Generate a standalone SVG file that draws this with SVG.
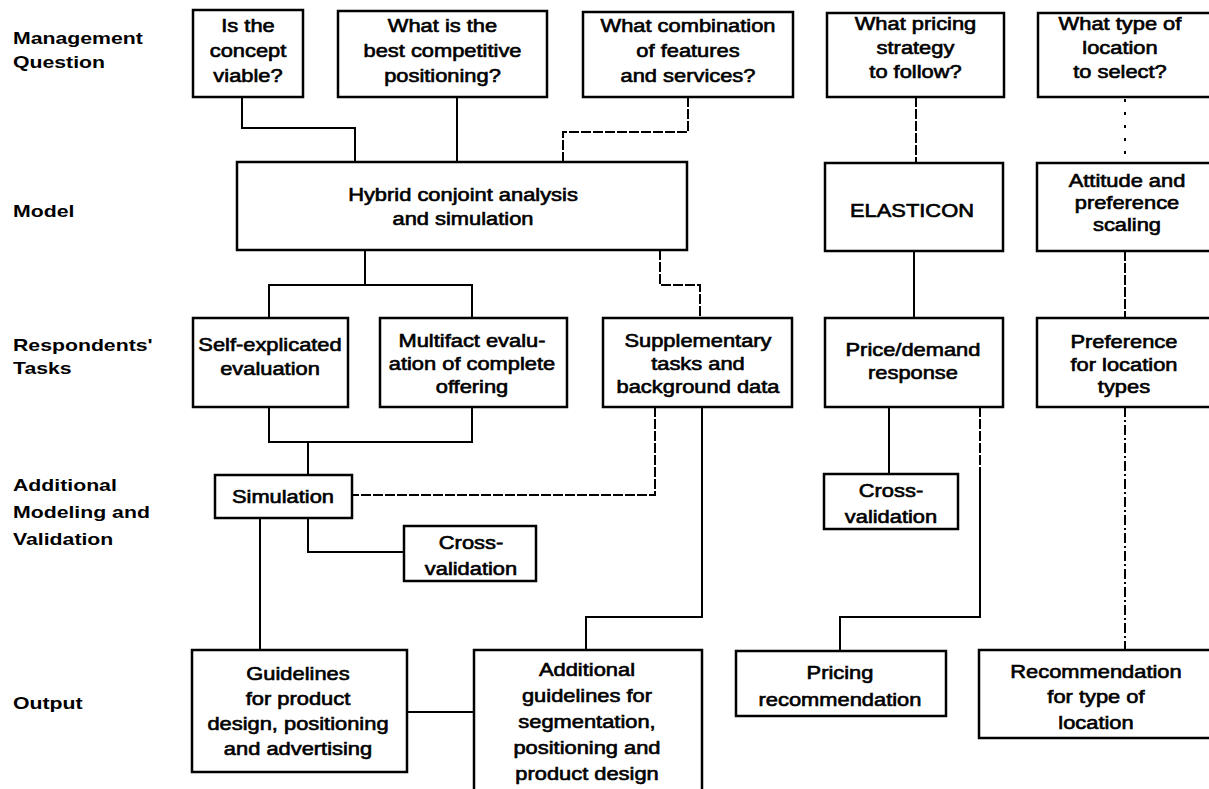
<svg xmlns="http://www.w3.org/2000/svg" width="1209" height="789" viewBox="0 0 1209 789">
<style>
.bg{fill:#fff}
.box{fill:none;stroke:#000;stroke-width:2.5}
.t{font-family:"Liberation Sans",Arial,sans-serif;font-size:17.5px;fill:#000;stroke:#000;stroke-width:0.6;text-anchor:middle}
.lab{font-family:"Liberation Sans",Arial,sans-serif;font-size:17px;font-weight:bold;fill:#000}
.c{fill:none;stroke:#000;stroke-width:2}
.d{stroke-dasharray:10 2}
.dot{stroke-dasharray:3 10}
.dd{stroke-dasharray:10 3 2 3}
</style>
<rect class="bg" x="0" y="0" width="1209" height="789"/>
<g id="labels" transform="scale(1.25 1)">
<text class="lab" x="10.4" y="44">Management</text>
<text class="lab" x="10.4" y="68">Question</text>
<text class="lab" x="10.4" y="217">Model</text>
<text class="lab" x="10.4" y="351">Respondents'</text>
<text class="lab" x="10.4" y="374">Tasks</text>
<text class="lab" x="10.4" y="491">Additional</text>
<text class="lab" x="10.4" y="518">Modeling and</text>
<text class="lab" x="10.4" y="545">Validation</text>
<text class="lab" x="10.4" y="709">Output</text>
</g>
<g id="connectors">
<path class="c" d="M242,97 V128 H355 V162"/>
<path class="c" d="M457,97 V162"/>
<path class="c d" d="M688,97 V132 H563 V162"/>
<path class="c d" d="M916,97 V163"/>
<path class="c dot" d="M1125,99 V161"/>
<path class="c" d="M365,250 V285"/>
<path class="c" d="M269,318 V285 H472 V318"/>
<path class="c d" d="M660,250 V285 H700 V318"/>
<path class="c" d="M914,251 V318"/>
<path class="c d" d="M1125,251 V318"/>
<path class="c" d="M269,407 V442 H472 V407"/>
<path class="c" d="M308,442 V475"/>
<path class="c d" d="M655,407 V495 H352"/>
<path class="c" d="M702,407 V617 H586 V650"/>
<path class="c" d="M308,518 V552 H404"/>
<path class="c" d="M260,518 V650"/>
<path class="c" d="M407,712 H474"/>
<path class="c" d="M889,407 V474"/>
<path class="c d" d="M980,407 V470"/>
<path class="c" d="M980,470 V617 H840 V651"/>
<path class="c dd" d="M1125,407 V650"/>
</g>
<g id="q1">
<rect class="box" x="193" y="10" width="110" height="87"/>
<text class="t" transform="scale(1.25 1)"><tspan x="198.4" y="32">Is the</tspan><tspan x="198.4" y="57">concept</tspan><tspan x="198.4" y="82">viable?</tspan></text>
</g>
<g id="q2">
<rect class="box" x="338" y="11" width="209" height="86"/>
<text class="t" transform="scale(1.25 1)"><tspan x="354" y="32">What is the</tspan><tspan x="354" y="57">best competitive</tspan><tspan x="354" y="82">positioning?</tspan></text>
</g>
<g id="q3">
<rect class="box" x="583" y="12" width="210" height="85"/>
<text class="t" transform="scale(1.25 1)"><tspan x="550.4" y="32">What combination</tspan><tspan x="550.4" y="57">of features</tspan><tspan x="550.4" y="82">and services?</tspan></text>
</g>
<g id="q4">
<rect class="box" x="827" y="13" width="177" height="84"/>
<text class="t" transform="scale(1.25 1)"><tspan x="732.4" y="30">What pricing</tspan><tspan x="732.4" y="54">strategy</tspan><tspan x="732.4" y="78">to follow?</tspan></text>
</g>
<g id="q5">
<rect class="box" x="1038" y="13" width="180" height="84"/>
<text class="t" transform="scale(1.25 1)"><tspan x="896" y="30">What type of</tspan><tspan x="896" y="54">location</tspan><tspan x="896" y="78">to select?</tspan></text>
</g>
<g id="hybrid">
<rect class="box" x="237" y="162" width="450" height="88"/>
<text class="t" transform="scale(1.25 1)"><tspan x="370.4" y="201">Hybrid conjoint analysis</tspan><tspan x="370.4" y="225">and simulation</tspan></text>
</g>
<g id="elasticon">
<rect class="box" x="825" y="163" width="178" height="88"/>
<text class="t" transform="scale(1.25 1)"><tspan x="729.6" y="217">ELASTICON</tspan></text>
</g>
<g id="attitude">
<rect class="box" x="1037" y="163" width="180" height="88"/>
<text class="t" transform="scale(1.25 1)"><tspan x="901.6" y="187">Attitude and</tspan><tspan x="901.6" y="209">preference</tspan><tspan x="901.6" y="231">scaling</tspan></text>
</g>
<g id="selfexp">
<rect class="box" x="193" y="318" width="155" height="89"/>
<text class="t" transform="scale(1.25 1)"><tspan x="216" y="351">Self-explicated</tspan><tspan x="216" y="375">evaluation</tspan></text>
</g>
<g id="multifact">
<rect class="box" x="380" y="318" width="187" height="89"/>
<text class="t" transform="scale(1.25 1)"><tspan x="377.6" y="347">Multifact evalu-</tspan><tspan x="377.6" y="370">ation of complete</tspan><tspan x="377.6" y="393">offering</tspan></text>
</g>
<g id="supplementary">
<rect class="box" x="603" y="318" width="189" height="89"/>
<text class="t" transform="scale(1.25 1)"><tspan x="558.4" y="347">Supplementary</tspan><tspan x="558.4" y="370">tasks and</tspan><tspan x="558.4" y="393">background data</tspan></text>
</g>
<g id="pricedemand">
<rect class="box" x="825" y="318" width="178" height="89"/>
<text class="t" transform="scale(1.25 1)"><tspan x="730.4" y="356">Price/demand</tspan><tspan x="730.4" y="379">response</tspan></text>
</g>
<g id="preference">
<rect class="box" x="1037" y="318" width="180" height="89"/>
<text class="t" transform="scale(1.25 1)"><tspan x="899.2" y="348">Preference</tspan><tspan x="899.2" y="371">for location</tspan><tspan x="899.2" y="393">types</tspan></text>
</g>
<g id="simulation">
<rect class="box" x="215" y="475" width="137" height="43"/>
<text class="t" transform="scale(1.25 1)"><tspan x="226.4" y="503">Simulation</tspan></text>
</g>
<g id="crossval1">
<rect class="box" x="404" y="526" width="132" height="55"/>
<text class="t" transform="scale(1.25 1)"><tspan x="376.8" y="549">Cross-</tspan><tspan x="376.8" y="575">validation</tspan></text>
</g>
<g id="crossval2">
<rect class="box" x="824" y="474" width="134" height="55"/>
<text class="t" transform="scale(1.25 1)"><tspan x="712.8" y="497">Cross-</tspan><tspan x="712.8" y="523">validation</tspan></text>
</g>
<g id="guidelines">
<rect class="box" x="192" y="650" width="215" height="122"/>
<text class="t" transform="scale(1.25 1)"><tspan x="238.4" y="680">Guidelines</tspan><tspan x="238.4" y="705">for product</tspan><tspan x="238.4" y="730">design, positioning</tspan><tspan x="238.4" y="755">and advertising</tspan></text>
</g>
<g id="additional">
<path class="box" d="M474,795 V650 H702 V795"/>
<text class="t" transform="scale(1.25 1)"><tspan x="469.6" y="676">Additional</tspan><tspan x="469.6" y="702">guidelines for</tspan><tspan x="469.6" y="728">segmentation,</tspan><tspan x="469.6" y="754">positioning and</tspan><tspan x="469.6" y="780">product design</tspan></text>
</g>
<g id="pricing">
<rect class="box" x="736" y="651" width="210" height="65"/>
<text class="t" transform="scale(1.25 1)"><tspan x="672" y="679">Pricing</tspan><tspan x="672" y="706">recommendation</tspan></text>
</g>
<g id="recommendation">
<rect class="box" x="979" y="650" width="240" height="88"/>
<text class="t" transform="scale(1.25 1)"><tspan x="876.8" y="678">Recommendation</tspan><tspan x="876.8" y="703">for type of</tspan><tspan x="876.8" y="729">location</tspan></text>
</g>
</svg>
